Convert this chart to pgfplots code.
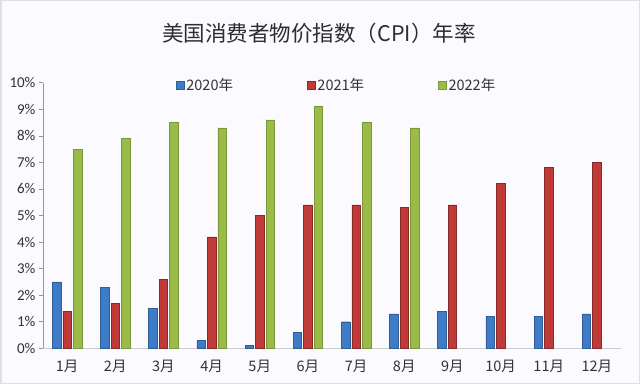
\documentclass[border=0pt]{standalone}
\usepackage{pgfplots}
\pgfplotsset{compat=1.18}
\usepackage{fontspec}
\setmainfont{Carlito}
\newfontfamily\cjk{Noto Sans CJK SC}
\definecolor{cblue}{RGB}{62,124,200}
\definecolor{cred}{RGB}{192,58,56}
\definecolor{cgreen}{RGB}{155,187,72}
\definecolor{axgray}{RGB}{150,150,150}
\pgfplotstableread{
x y20 y21 y22
0 2.5 1.4 7.5
1 2.3 1.7 7.9
2 1.5 2.6 8.5
3 0.3 4.2 8.3
4 0.1 5.0 8.6
5 0.6 5.4 9.1
6 1.0 5.4 8.5
7 1.3 5.3 8.3
8 1.4 5.4 nan
9 1.2 6.2 nan
10 1.2 6.8 nan
11 1.3 7.0 nan
}\cpi
\begin{document}
\begin{tikzpicture}
\fill[white!98!blue] (0pt,0pt) rectangle (640pt,384pt);
\draw[black!12,line width=1.5pt] (0.75pt,0.75pt) rectangle (639.25pt,383.25pt);
\node[font=\cjk\fontsize{21.5}{24}\selectfont, text=black!82] at (319pt,351pt) {美国消费者物价指数（CPI）年率};
\begin{axis}[
  at={(43pt,35.7pt)}, anchor=south west,
  scale only axis, width=578pt, height=265.6pt,
  ybar=2pt, bar width=8.5pt,
  xmin=-0.5, xmax=11.5, ymin=0, ymax=10,
  unbounded coords=discard,
  xtick={0,...,11},
  xticklabels={1月,2月,3月,4月,5月,6月,7月,8月,9月,10月,11月,12月},
  xticklabel style={font=\cjk\fontsize{14.5}{16}\selectfont, text=black!80, yshift=-4pt},
  ytick={0,...,10},
  yticklabel={\pgfmathprintnumber{\tick}\%},
  yticklabel style={font=\fontsize{15}{17}\selectfont, text=black!80},
  /pgf/number format/assume math mode=true,
  axis lines*=left,
  axis line style={draw=axgray, line width=0.6pt, -},
  x axis line style={draw=black!20},
  y axis line style={draw=axgray},
  major tick length=4pt,
  tick style={draw=axgray, line width=0.6pt},
  xtick style={draw=none},
  ytick align=outside,
  legend columns=3,
  legend style={at={(0.508,0.989)}, anchor=center, draw=none, fill=none,
    font=\cjk\fontsize{14.5}{16}\selectfont, text=black!80,
    /tikz/every even column/.append style={column sep=72pt}},
  legend image code/.code={\fill[#1] (0pt,-4pt) rectangle (8pt,4pt);},
  legend cell align=left,
]
\addplot[fill=cblue, draw=cblue!75!black, line width=0.4pt] table[x=x,y=y20]{\cpi};
\addplot[fill=cred, draw=cred!70!black, line width=0.4pt] table[x=x,y=y21]{\cpi};
\addplot[fill=cgreen, draw=cgreen!80!black, line width=0.4pt] table[x=x,y=y22]{\cpi};
\legend{2020年,2021年,2022年}
\end{axis}
\end{tikzpicture}
\end{document}
